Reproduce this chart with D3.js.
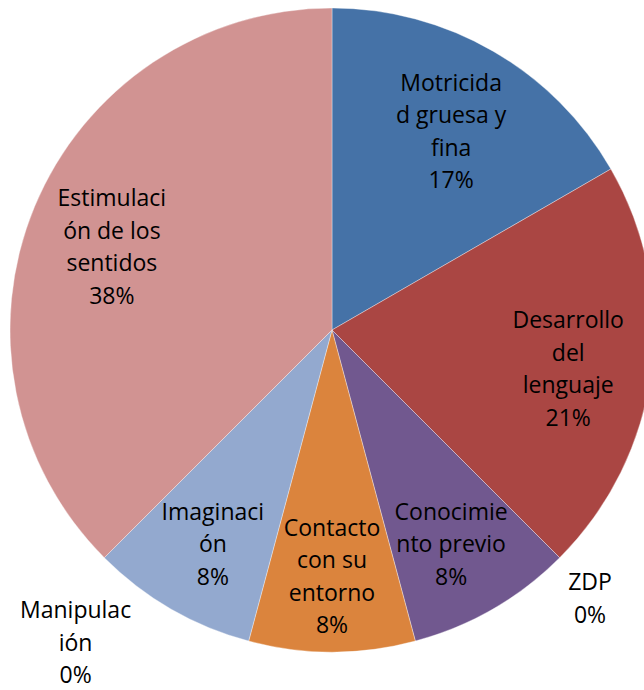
<!DOCTYPE html>
<html>
<head>
<meta charset="utf-8" />
<title>Pie chart</title>
<style>
    body { margin: 0; background: #fff; font-family: "Open Sans", "Lato", sans-serif; }
    .label { font-size: 23px; fill: #000; }
</style>
</head>
<body>
<script src="https://cdn.jsdelivr.net/npm/d3@7"></script>
<div id="graphic"></div>
<script>
    // categories in drawing order (clockwise from 12 o'clock), counts out of 24
    var categories = ["Motricidad gruesa y fina", "Desarrollo del lenguaje", "ZDP", "Conocimiento previo",
                      "Contacto con su entorno", "Imaginación", "Manipulación", "Estimulación de los sentidos"];
    var values = [4, 5, 0, 2, 2, 2, 0, 9];
    // label lines wrapped the way the picture wraps them
    var labelLines = [
        ["Motricida", "d gruesa y", "fina"],
        ["Desarrollo", "del", "lenguaje"],
        ["ZDP"],
        ["Conocimie", "nto previo"],
        ["Contacto", "con su", "entorno"],
        ["Imaginaci", "ón"],
        ["Manipulac", "ión"],
        ["Estimulaci", "ón de los", "sentidos"]
    ];
    var colors = ["#4572A7", "#AA4643", "#89A54E", "#71588F", "#DB843D", "#93A9CF", "#B9CD96", "#D19392"];

    var width = 644, height = 690;
    var cx = 332, cy = 330, R = 322;
    var lineH = 32.5;

    var data = categories.map(function (c, i) {
        return { name: c, value: values[i], lines: labelLines[i], color: colors[i] };
    });
    var total = d3.sum(values);

    var svg = d3.select("#graphic").append("svg")
        .attr("width", width)
        .attr("height", height);

    var g = svg.append("g").attr("transform", "translate(" + cx + "," + cy + ")");

    var pie = d3.pie().sort(null).value(function (d) { return d.value; });
    var arc = d3.arc().innerRadius(0).outerRadius(R);
    var labelArc = d3.arc().innerRadius(R * 0.74).outerRadius(R * 0.74);

    var arcs = pie(data);

    g.selectAll("path")
        .data(arcs.filter(function (d) { return d.data.value > 0; }))
        .enter().append("path")
        .attr("d", arc)
        .attr("fill", function (d) { return d.data.color; })
        .attr("stroke", "#ffffff")
        .attr("stroke-opacity", 0.5)
        .attr("stroke-width", 0.7);

    var labels = g.selectAll(".label")
        .data(arcs)
        .enter().append("text")
        .attr("class", "label")
        .attr("text-anchor", "middle");

    labels.each(function (d) {
        var t = d3.select(this);
        var pct = Math.round(d.data.value / total * 100) + "%";
        var lines = d.data.lines.concat([pct]);
        lines.forEach(function (s) {
            t.append("tspan").attr("x", 0).text(s);
        });
        var w = d3.max(t.selectAll("tspan").nodes(), function (n) { return n.getComputedTextLength(); });
        var h = lines.length * lineH;
        var px, py;
        if (d.data.value > 0) {
            var c = labelArc.centroid(d);
            px = c[0]; py = c[1];
            // keep the block inside the right edge of the picture
            px = Math.min(px, width - cx - 8 - w / 2);
        } else {
            // zero slices: block sits outside the pie, nearest corner on a ring just outside it
            var a = d.startAngle, r0 = R + 12;
            var ex = Math.sin(a) * r0;
            px = ex + (ex >= 0 ? w / 2 : -w / 2);
            px = Math.max(-cx + 20 + w / 2, Math.min(width - cx - 20 - w / 2, px));
            var innerX = ex >= 0 ? px - w / 2 : px + w / 2;
            var top = Math.sqrt(Math.max(0, r0 * r0 - innerX * innerX));
            py = top + h / 2 - 8;
        }
        // last baseline must stay inside the picture
        var lastBase = py - h / 2 + lineH * (lines.length - 0.5) + 16;
        var maxBase = height - cy - 7;
        if (lastBase > maxBase) py -= lastBase - maxBase;
        t.selectAll("tspan")
            .attr("x", px)
            .attr("y", function (s, i) { return py - h / 2 + lineH * (i + 0.5) + 16; });
    });
</script>
</body>
</html>
